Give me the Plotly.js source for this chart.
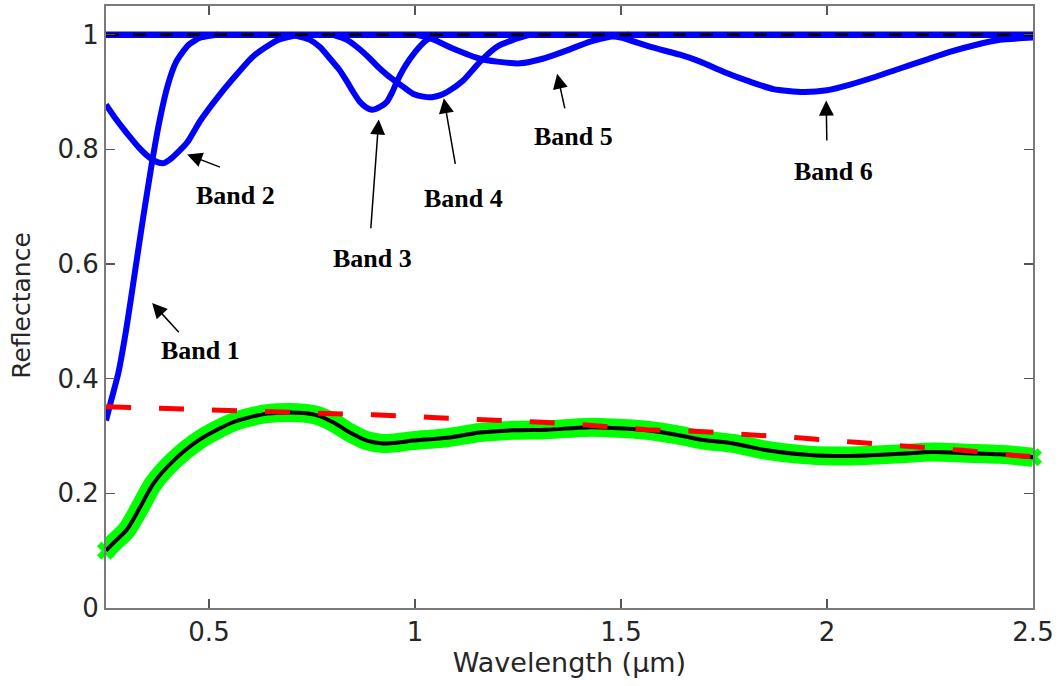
<!DOCTYPE html>
<html>
<head>
<meta charset="utf-8">
<script src="https://cdn.plot.ly/plotly-3.0.1.min.js"></script>
<style>html,body{margin:0;padding:0;background:#fff;}#chart{width:1064px;height:686px;}</style>
</head>
<body>
<div id="chart"></div>
<script>
// Band absorption curves (continuum removed)
const band1X = [0.25, 0.26, 0.28, 0.30, 0.32, 0.34, 0.36, 0.38, 0.40, 0.42, 0.45, 0.48, 0.52];
const band1Y = [0.327, 0.355, 0.41, 0.49, 0.585, 0.68, 0.77, 0.85, 0.912, 0.952, 0.982, 0.995, 1.0];

const band2X = [0.25, 0.27, 0.29, 0.31, 0.33, 0.35, 0.37, 0.39, 0.41, 0.447, 0.478, 0.519, 0.558, 0.607, 0.665, 0.72];
const band2Y = [0.878, 0.857, 0.838, 0.820, 0.803, 0.789, 0.779, 0.776, 0.785, 0.812, 0.849, 0.889, 0.923, 0.962, 0.990, 1.0];

const band3X = [0.70, 0.745, 0.77, 0.794, 0.815, 0.835, 0.85, 0.866, 0.88, 0.896, 0.915, 0.932, 0.945, 0.956, 0.972, 0.988, 1.01, 1.029, 1.06];
const band3Y = [1.0, 0.991, 0.978, 0.958, 0.94, 0.918, 0.90, 0.883, 0.874, 0.869, 0.874, 0.883, 0.90, 0.918, 0.94, 0.958, 0.978, 0.991, 1.0];

const band4X = [0.80, 0.835, 0.86, 0.891, 0.91, 0.932, 0.964, 0.995, 1.02, 1.041, 1.06, 1.078, 1.117, 1.158, 1.199, 1.238, 1.28];
const band4Y = [1.0, 0.991, 0.978, 0.958, 0.944, 0.930, 0.913, 0.897, 0.892, 0.891, 0.894, 0.90, 0.92, 0.953, 0.979, 0.991, 1.0];

const band5X = [1.00, 1.04, 1.092, 1.158, 1.199, 1.255, 1.31, 1.359, 1.425, 1.47, 1.52];
const band5Y = [1.0, 0.993, 0.976, 0.958, 0.953, 0.950, 0.958, 0.970, 0.988, 0.996, 1.0];

const band6X = [1.45, 1.50, 1.57, 1.643, 1.692, 1.75, 1.813, 1.87, 1.942, 2.00, 2.056, 2.12, 2.177, 2.24, 2.298, 2.36, 2.42, 2.5];
const band6Y = [1.0, 0.995, 0.979, 0.965, 0.953, 0.935, 0.918, 0.905, 0.90, 0.903, 0.913, 0.927, 0.941, 0.956, 0.970, 0.982, 0.991, 0.995];

// Continuum at unity
const contX = [0.25, 2.5];
const contY = [1.0, 1.0];

// Measured reflectance spectrum (green) and fitted model (black)
const specX = [0.25, 0.27, 0.30, 0.333, 0.365, 0.414, 0.478, 0.558, 0.60, 0.641, 0.697, 0.73, 0.762, 0.801, 0.842, 0.883, 0.922, 0.964, 0.995, 1.078, 1.158, 1.238, 1.32, 1.417, 1.48, 1.563, 1.643, 1.70, 1.772, 1.854, 1.934, 2.015, 2.097, 2.177, 2.257, 2.34, 2.42, 2.5];
const specY = [0.10, 0.115, 0.136, 0.176, 0.217, 0.257, 0.294, 0.324, 0.333, 0.339, 0.341, 0.340, 0.336, 0.324, 0.306, 0.292, 0.287, 0.289, 0.292, 0.297, 0.306, 0.310, 0.311, 0.315, 0.314, 0.310, 0.301, 0.293, 0.287, 0.275, 0.268, 0.265, 0.266, 0.269, 0.272, 0.270, 0.268, 0.263];

// Continuum (red dashed)
const redX = [0.25, 0.381, 0.51, 0.64, 0.77, 0.898, 1.053, 1.18, 1.31, 1.437, 1.563, 1.69, 1.818, 1.946, 2.07, 2.2, 2.328, 2.456, 2.5];
const redY = [0.351, 0.348, 0.346, 0.343, 0.341, 0.337, 0.332, 0.329, 0.324, 0.318, 0.311, 0.308, 0.303, 0.296, 0.289, 0.282, 0.275, 0.266, 0.264];

const xTicks = [0.5, 1, 1.5, 2, 2.5];
const xTickText = ['0.5', '1', '1.5', '2', '2.5'];
const yTicks = [0, 0.2, 0.4, 0.6, 0.8, 1];
const yTickText = ['0', '0.2', '0.4', '0.6', '0.8', '1'];

// Band labels: text position, arrow tip, arrow tail
const bandNames = ['Band 1', 'Band 2', 'Band 3', 'Band 4', 'Band 5', 'Band 6'];
const labelX = [0.480, 0.564, 0.898, 1.117, 1.384, 2.015];
const labelY = [0.449, 0.720, 0.610, 0.714, 0.823, 0.762];
const tipX = [0.362, 0.447, 0.912, 1.070, 1.345, 1.998];
const tipY = [0.532, 0.791, 0.852, 0.889, 0.932, 0.885];
const tailX = [0.434, 0.534, 0.891, 1.102, 1.369, 2.000];
const tailY = [0.475, 0.767, 0.645, 0.757, 0.854, 0.798];

const blue = '#0000ff';
const bandLine = {color: blue, width: 6, shape: 'spline', smoothing: 0.6};

const traces = [
  {x: band1X, y: band1Y, mode: 'lines', line: bandLine, hoverinfo: 'skip'},
  {x: band2X, y: band2Y, mode: 'lines', line: bandLine, hoverinfo: 'skip'},
  {x: band3X, y: band3Y, mode: 'lines', line: bandLine, hoverinfo: 'skip'},
  {x: band4X, y: band4Y, mode: 'lines', line: bandLine, hoverinfo: 'skip'},
  {x: band5X, y: band5Y, mode: 'lines', line: bandLine, hoverinfo: 'skip'},
  {x: band6X, y: band6Y, mode: 'lines', line: bandLine, hoverinfo: 'skip'},
  {x: contX, y: contY, mode: 'lines', line: {color: blue, width: 6.5}, hoverinfo: 'skip'},
  {x: contX, y: contY, mode: 'lines', line: {color: '#000000', width: 3, dash: '13px,14px'}, hoverinfo: 'skip'},
  {x: specX, y: specY, mode: 'lines', line: {color: '#00ff00', width: 19, shape: 'spline', smoothing: 0.8}, hoverinfo: 'skip'},
  {x: [specX[0], specX[specX.length - 1]], y: [specY[0], specY[specY.length - 1]], mode: 'markers', cliponaxis: false,
   marker: {symbol: 'x', size: 16, color: '#00ff00', line: {width: 0}}, hoverinfo: 'skip'},
  {x: specX, y: specY, mode: 'lines', line: {color: '#000000', width: 4, shape: 'spline', smoothing: 0.8}, hoverinfo: 'skip'},
  {x: redX, y: redY, mode: 'lines', line: {color: '#ff0000', width: 5, dash: '25px,28px'}, hoverinfo: 'skip'}
];

const annotations = [];
for (let i = 0; i < bandNames.length; i++) {
  annotations.push({
    x: tipX[i], y: tipY[i], xref: 'x', yref: 'y',
    ax: tailX[i], ay: tailY[i], axref: 'x', ayref: 'y',
    text: ' ', showarrow: true, arrowhead: 2, arrowsize: 2, arrowwidth: 1.5,
    arrowcolor: '#000000', standoff: 0, startstandoff: 0
  });
  annotations.push({
    x: labelX[i], y: labelY[i], xref: 'x', yref: 'y',
    text: '<b>' + bandNames[i] + '</b>', showarrow: false,
    font: {family: 'Liberation Serif, Times New Roman, serif', size: 26, color: '#000000'},
    xanchor: 'center', yanchor: 'middle'
  });
}
// y-axis title placed as rotated text
annotations.push({
  x: -0.091, y: 0.503, xref: 'paper', yref: 'paper', showarrow: false,
  text: 'Reflectance', textangle: -90, xanchor: 'center', yanchor: 'middle',
  font: {family: 'DejaVu Sans, Arial, sans-serif', size: 25, color: '#262626'}
});

const axisCommon = {
  showgrid: false, zeroline: false, showline: true, linecolor: '#7a7a7a', linewidth: 2,
  mirror: 'ticks', ticks: 'inside', ticklen: 9, tickwidth: 1.5, tickcolor: '#555555',
  tickfont: {family: 'DejaVu Sans, Arial, sans-serif', size: 26, color: '#262626'}
};

const layout = {
  width: 1064, height: 686,
  margin: {l: 106, r: 31, t: 6, b: 78, pad: 0},
  paper_bgcolor: '#ffffff', plot_bgcolor: '#ffffff',
  showlegend: false,
  xaxis: Object.assign({}, axisCommon, {
    range: [0.25, 2.5], tickmode: 'array', tickvals: xTicks, ticktext: xTickText,
    title: {text: 'Wavelength (\u00b5m)', font: {family: 'DejaVu Sans, Arial, sans-serif', size: 27, color: '#262626'}, standoff: 4}
  }),
  yaxis: Object.assign({}, axisCommon, {
    range: [0, 1.05], tickmode: 'array', tickvals: yTicks, ticktext: yTickText
  }),
  annotations: annotations
};

Plotly.newPlot('chart', traces, layout, {displayModeBar: false, staticPlot: true});
</script>
</body>
</html>
